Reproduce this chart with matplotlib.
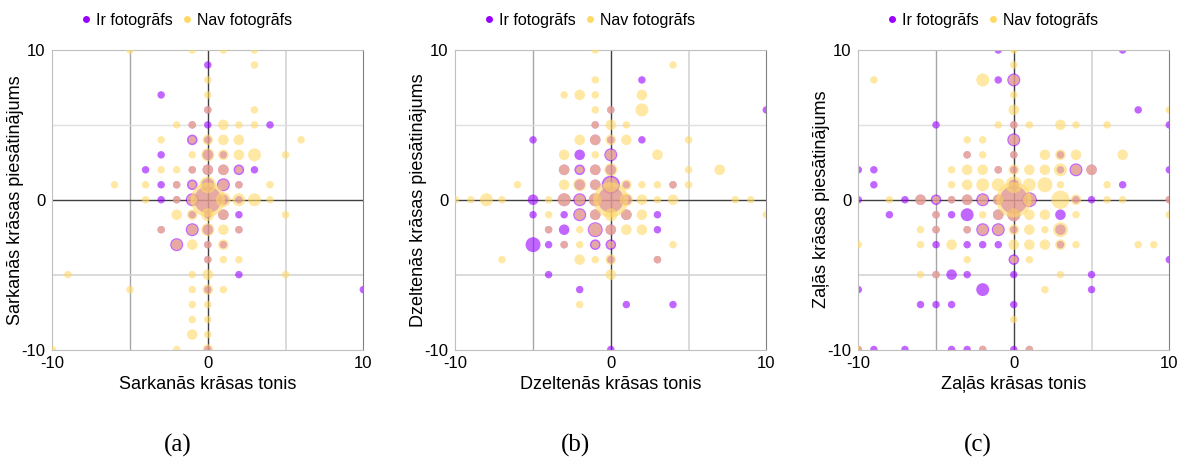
import matplotlib.pyplot as plt
from matplotlib.lines import Line2D

# (tonis, piesātinājums, skaits)
sark_ir = [(0, 9, 1), (-3, 7, 1), (0, 6, 1), (-1, 5, 1), (0, 5, 1), (4, 5, 1),
           (-1, 4, 2), (0, 4, 1), (-3, 3, 1), (0, 3, 2), (1, 3, 1),
           (-4, 2, 1), (-1, 2, 1), (0, 2, 2), (1, 2, 2), (2, 2, 2), (3, 2, 1),
           (-3, 1, 1), (-2, 1, 1), (-1, 1, 2), (0, 1, 3), (1, 1, 3), (2, 1, 1),
           (-3, 0, 1), (-2, 0, 1), (-1, 0, 3), (0, 0, 13), (1, 0, 2), (2, 0, 1),
           (-1, -1, 1), (0, -1, 1), (1, -1, 2), (2, -1, 1),
           (-3, -2, 1), (-1, -2, 3), (0, -2, 2), (2, -2, 1),
           (-2, -3, 3), (0, -3, 1), (1, -3, 1), (0, -4, 1), (2, -5, 1),
           (0, -6, 1), (10, -6, 1), (0, -10, 1)]
sark_nav = [(-5, 10, 1), (-1, 10, 1), (1, 10, 1), (3, 10, 1),
            (3, 9, 1), (0, 8, 1), (0, 7, 1), (0, 6, 1), (3, 6, 1),
            (-2, 5, 1), (-1, 5, 1), (1, 5, 2), (2, 5, 1), (3, 5, 1),
            (-3, 4, 1), (-1, 4, 1), (0, 4, 2), (1, 4, 2), (2, 4, 2), (6, 4, 1),
            (-1, 3, 1), (0, 3, 3), (1, 3, 2), (2, 3, 2), (3, 3, 3), (5, 3, 1),
            (-3, 2, 1), (-2, 2, 1), (-1, 2, 1), (0, 2, 2), (1, 2, 2), (2, 2, 1),
            (-6, 1, 1), (-4, 1, 1), (-2, 1, 1), (-1, 1, 1), (0, 1, 5), (1, 1, 2),
            (2, 1, 1), (4, 1, 1),
            (-4, 0, 1), (-2, 0, 1), (-1, 0, 2), (0, 0, 21), (1, 0, 4), (2, 0, 3),
            (3, 0, 3), (4, 0, 1),
            (-2, -1, 2), (-1, -1, 2), (0, -1, 3), (1, -1, 2), (5, -1, 1),
            (-3, -2, 1), (-1, -2, 2), (0, -2, 3), (1, -2, 2), (2, -2, 1),
            (-2, -3, 2), (-1, -3, 2), (0, -3, 1), (1, -3, 2),
            (0, -4, 1), (1, -4, 1), (2, -4, 1),
            (-9, -5, 1), (-1, -5, 1), (0, -5, 2), (5, -5, 1),
            (-5, -6, 1), (-1, -6, 1), (0, -6, 2), (1, -6, 1),
            (-1, -7, 1), (0, -7, 1), (-1, -8, 1), (0, -8, 1),
            (-1, -9, 2), (0, -9, 1), (-10, -10, 1), (-2, -10, 1), (0, -10, 2)]

dzelt_ir = [(2, 8, 1), (0, 6, 1), (10, 6, 1), (-1, 5, 1),
            (-5, 4, 1), (-1, 4, 2), (0, 4, 1), (2, 4, 1),
            (-2, 3, 2), (0, 3, 3),
            (-3, 2, 2), (-2, 2, 2), (-1, 2, 2), (0, 2, 2),
            (-2, 1, 2), (-1, 1, 2), (0, 1, 6), (1, 1, 1), (4, 1, 1),
            (-5, 0, 2), (-3, 0, 3), (-2, 0, 3), (-1, 0, 3), (0, 0, 12), (1, 0, 2),
            (-5, -1, 1), (-3, -1, 1), (-2, -1, 3), (-1, -1, 2), (1, -1, 2), (3, -1, 1),
            (-4, -2, 1), (-3, -2, 2), (-1, -2, 4), (0, -2, 2), (3, -2, 1),
            (-5, -3, 4), (-4, -3, 1), (-3, -3, 1), (-1, -3, 2), (0, -3, 2),
            (0, -4, 1), (3, -4, 1), (-4, -5, 1), (-2, -6, 1),
            (1, -7, 1), (4, -7, 1), (0, -10, 1)]
dzelt_nav = [(-1, 10, 1), (4, 9, 1), (-1, 8, 1),
             (-3, 7, 1), (-2, 7, 2), (-1, 7, 1), (2, 7, 2),
             (-1, 6, 1), (0, 6, 1), (2, 6, 3),
             (-1, 5, 1), (0, 5, 2), (1, 5, 1),
             (-2, 4, 2), (-1, 4, 2), (0, 4, 2), (1, 4, 2), (5, 4, 1),
             (-3, 3, 2), (-1, 3, 1), (0, 3, 2), (3, 3, 2),
             (-3, 2, 2), (-2, 2, 1), (-1, 2, 2), (0, 2, 3), (5, 2, 1), (7, 2, 2),
             (-6, 1, 1), (-3, 1, 2), (-2, 1, 3), (-1, 1, 2), (0, 1, 4), (1, 1, 2),
             (2, 1, 1), (3, 1, 1), (4, 1, 1), (5, 1, 1),
             (-10, 0, 1), (-9, 0, 1), (-8, 0, 3), (-7, 0, 1), (-4, 0, 1), (-3, 0, 3),
             (-2, 0, 2), (-1, 0, 3), (0, 0, 22), (1, 0, 3), (2, 0, 2), (3, 0, 1),
             (4, 0, 2), (8, 0, 1), (9, 0, 1),
             (-4, -1, 1), (-2, -1, 2), (-1, -1, 2), (0, -1, 3), (1, -1, 2), (2, -1, 2),
             (10, -1, 1),
             (-4, -2, 1), (-2, -2, 1), (-1, -2, 3), (0, -2, 2), (1, -2, 2), (2, -2, 2),
             (-3, -3, 1), (-2, -3, 1), (-1, -3, 1), (0, -3, 1), (4, -3, 1),
             (-7, -4, 1), (-2, -4, 2), (-1, -4, 1), (0, -4, 2), (3, -4, 1),
             (0, -5, 2), (-2, -7, 1)]

zal_ir = [(-1, 10, 1), (7, 10, 1), (-1, 8, 1), (0, 8, 3), (8, 6, 1),
          (-5, 5, 1), (0, 5, 1), (10, 5, 1), (0, 4, 3),
          (-3, 3, 1), (0, 3, 1), (3, 3, 1),
          (-10, 2, 1), (-9, 2, 1), (-1, 2, 1), (0, 2, 1), (3, 2, 1), (4, 2, 3),
          (5, 2, 2), (10, 2, 1),
          (-9, 1, 1), (0, 1, 2), (7, 1, 1),
          (-10, 0, 1), (-7, 0, 1), (-6, 0, 2), (-5, 0, 2), (-4, 0, 1), (-3, 0, 2),
          (-2, 0, 3), (-1, 0, 2), (0, 0, 14), (1, 0, 4), (4, 0, 1), (5, 0, 1),
          (10, 0, 1),
          (-8, -1, 1), (-5, -1, 1), (-4, -1, 1), (-3, -1, 3), (-1, -1, 2),
          (0, -1, 3), (3, -1, 2),
          (-5, -2, 1), (-3, -2, 1), (-2, -2, 3), (-1, -2, 3), (0, -2, 1), (3, -2, 2),
          (-5, -3, 1), (-3, -3, 1), (-2, -3, 1), (-1, -3, 1), (3, -3, 1),
          (0, -4, 2), (10, -4, 1),
          (-5, -5, 1), (-4, -5, 2), (-3, -5, 1), (0, -5, 1), (5, -5, 1),
          (-10, -6, 1), (-2, -6, 3), (5, -6, 1),
          (-6, -7, 1), (-5, -7, 1), (-4, -7, 1), (0, -7, 1),
          (-10, -10, 1), (-9, -10, 1), (-7, -10, 1), (-4, -10, 1), (-3, -10, 1),
          (-2, -10, 1), (0, -10, 1), (1, -10, 1)]
zal_nav = [(0, 10, 1), (0, 9, 1), (-9, 8, 1), (-2, 8, 3), (0, 8, 2), (0, 7, 1),
           (0, 6, 2), (10, 6, 1),
           (-1, 5, 1), (0, 5, 1), (1, 5, 1), (3, 5, 2), (4, 5, 1), (6, 5, 1),
           (-3, 4, 1), (-2, 4, 1), (0, 4, 2),
           (-3, 3, 1), (-2, 3, 1), (0, 3, 1), (2, 3, 2), (3, 3, 2), (4, 3, 2), (7, 3, 2),
           (-4, 2, 1), (-3, 2, 2), (-2, 2, 2), (-1, 2, 1), (0, 2, 2), (1, 2, 2),
           (2, 2, 2), (3, 2, 3), (4, 2, 2), (5, 2, 2),
           (-4, 1, 1), (-3, 1, 2), (-2, 1, 3), (-1, 1, 3), (0, 1, 5), (1, 1, 3),
           (2, 1, 4), (3, 1, 1), (6, 1, 1),
           (-8, 0, 1), (-6, 0, 2), (-5, 0, 1), (-4, 0, 1), (-3, 0, 2), (-2, 0, 2),
           (-1, 0, 2), (0, 0, 22), (1, 0, 3), (3, 0, 6), (4, 0, 2), (6, 0, 1),
           (7, 0, 1), (10, 0, 1),
           (-5, -1, 1), (-2, -1, 1), (-1, -1, 2), (0, -1, 3), (1, -1, 2), (2, -1, 2),
           (4, -1, 1), (10, -1, 1),
           (-6, -2, 1), (-5, -2, 1), (-3, -2, 1), (-2, -2, 2), (-1, -2, 2), (0, -2, 2),
           (1, -2, 2), (2, -2, 1), (3, -2, 4),
           (-10, -3, 1), (-6, -3, 1), (-4, -3, 2), (0, -3, 2), (1, -3, 2), (2, -3, 2),
           (3, -3, 2), (4, -3, 1), (8, -3, 1), (9, -3, 1),
           (-3, -4, 1), (0, -4, 1), (1, -4, 1),
           (-6, -5, 1), (-5, -5, 1), (3, -5, 1), (2, -6, 1), (0, -8, 1),
           (-10, -10, 1), (-2, -10, 1), (1, -10, 1)]

panels = [
    ("Sarkanās krāsas tonis", "Sarkanās krāsas piesātinājums", sark_ir, sark_nav, "(a)"),
    ("Dzeltenās krāsas tonis", "Dzeltenās krāsas piesātinājums", dzelt_ir, dzelt_nav, "(b)"),
    ("Zaļās krāsas tonis", "Zaļās krāsas piesātinājums", zal_ir, zal_nav, "(c)"),
]

purple = "#9900ff"
yellow = "#ffd966"
scale = 29

plt.rcParams["font.family"] = ["Liberation Sans", "DejaVu Sans"]
plt.rcParams["axes.unicode_minus"] = False

W, H = 1187, 463
fig = plt.figure(figsize=(W / 100, H / 100), dpi=100)

lefts = [52.3, 455.3, 858.3]
cap_x = [178, 575, 978]

for i, (xl, yl, ir, nav, cap) in enumerate(panels):
    ax = fig.add_axes([lefts[i] / W, (H - 349.5) / H, 311 / W, 299.5 / H])
    ax.set_xlim(-10, 10)
    ax.set_ylim(-10, 10)

    ax.axvline(-5, color="#a6a6a6", lw=1, zorder=0)
    ax.axvline(5, color="#d4d4d4", lw=1.2, zorder=0)
    ax.axhline(5, color="#e0e0e0", lw=1, zorder=0)
    ax.axhline(-5, color="#d4d4d4", lw=1.2, zorder=0)
    ax.axvline(0, color="#404040", lw=1, zorder=1)
    ax.axhline(0, color="#404040", lw=1, zorder=1)

    ax.scatter([p[0] for p in ir], [p[1] for p in ir],
               s=[p[2] * scale for p in ir], color=purple, alpha=0.6,
               linewidths=0, zorder=2)
    ax.scatter([p[0] for p in nav], [p[1] for p in nav],
               s=[p[2] * scale for p in nav], color=yellow, alpha=0.6,
               linewidths=0, zorder=3)

    for side in ["left", "top", "bottom"]:
        ax.spines[side].set_color("#bfbfbf")
    ax.spines["right"].set_color("#808080")

    ax.set_xticks([-10, 0, 10])
    ax.set_yticks([-10, 0, 10])
    ax.tick_params(length=0, labelsize=12, pad=5)
    ax.set_xlabel(xl, fontsize=13)
    ax.set_ylabel(yl, fontsize=13)
    ax.xaxis.set_label_coords(0.5, -0.09)
    ax.yaxis.set_label_coords(-0.09, 0.5)

    handles = [Line2D([], [], ls="", marker="o", ms=5, color=purple, mec="none",
                      label="Ir fotogrāfs"),
               Line2D([], [], ls="", marker="o", ms=5, color=yellow, mec="none",
                      label="Nav fotogrāfs")]
    ax.legend(handles=handles, loc="center", bbox_to_anchor=(0.432, 1.1),
              ncol=2, frameon=False, fontsize=11.5, handlelength=0.6,
              handletextpad=0.3, columnspacing=0.6, borderaxespad=0)

    fig.text(cap_x[i] / W, 1 - 445 / H, cap, ha="center", va="center",
             fontsize=18, family="Liberation Serif")

fig.savefig("out.png", dpi=100)
